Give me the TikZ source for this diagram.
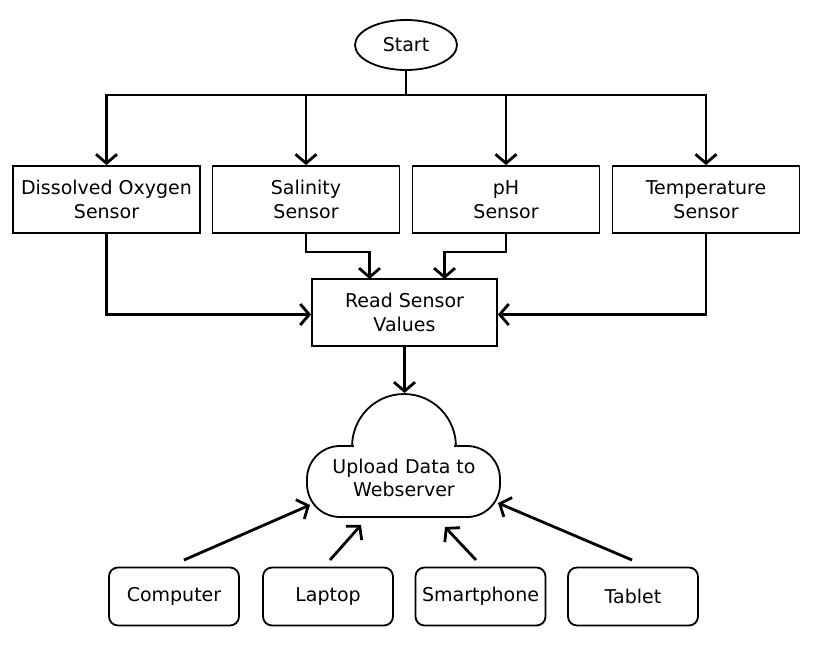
\documentclass[tikz,border=0pt]{standalone}
\usepackage{fontspec}
\setmainfont{DejaVu Sans}
\usetikzlibrary{arrows.meta,shapes.geometric}
\begin{document}
\begin{tikzpicture}[x=1pt,y=-1pt,
  font=\fontsize{19}{23.5}\selectfont,
  box/.style={draw,line width=1.8pt,minimum width=187pt,minimum height=67pt,align=center,inner sep=0pt},
  dev/.style={draw,line width=1.8pt,rounded corners=9pt,minimum width=130pt,minimum height=58pt,inner sep=0pt},
  conn/.style={line width=2.8pt,-{Straight Barb[length=9pt,width=21pt]}},
  wire/.style={line width=2.8pt},
  cloudline/.style={line width=1.8pt}]
\useasboundingbox (0,0) rectangle (813,653);
% start
\node[draw,ellipse,line width=1.8pt,minimum width=102pt,minimum height=50pt,inner sep=0pt] (start) at (406,45) {Start};
% sensors
\node[box] (do) at (106.5,199.5) {Dissolved Oxygen\\Sensor};
\node[box] (sal) at (306,199.5) {Salinity\\Sensor};
\node[box] (ph) at (506,199.5) {pH\\Sensor};
\node[box] (temp) at (706,199.5) {Temperature\\Sensor};
\node[box,minimum width=185pt] (read) at (404.5,312.5) {Read Sensor\\Values};
% cloud
\draw[cloudline,rounded corners=33pt] (307,446) rectangle (500,517);
\fill[white] (354,443) rectangle (454,449.5);
\draw[cloudline] (352,447) .. controls (352,417.3) and (375.3,394) .. (404,394) .. controls (432.7,394) and (456,417.3) .. (456,447);
\node[align=center] (cloud) at (404,478) {Upload Data to\\Webserver};
\coordinate (cloudtop) at (404.5,393);
% devices
\node[dev] (comp) at (174,596.5) {Computer};
\node[dev] (lap) at (328,596.5) {Laptop};
\node[dev] (phone) at (480.5,596.5) {Smartphone};
\node[dev] (tab) at (633,596.5) {Tablet};
% coordinates
\coordinate (bus) at (406,95);
\coordinate (lvl) at (0,252);
\coordinate (mid) at (0,314.5);
\coordinate (salin) at (369.5,279);
\coordinate (phin) at (444.5,279);
\coordinate (c1s) at (184,560);
\coordinate (c1e) at (310,505);
\coordinate (c2s) at (330,560);
\coordinate (c2e) at (361,525);
\coordinate (c3s) at (476,560);
\coordinate (c3e) at (445,527);
\coordinate (c4s) at (632,560);
\coordinate (c4e) at (498,503);
% connectors
\draw[wire] (start) -- (bus);
\draw[conn] (bus) -| (do.north);
\draw[conn] (bus) -| (sal.north);
\draw[conn] (bus) -| (ph.north);
\draw[conn] (bus) -| (temp.north);
\draw[conn] (do.south) |- (read.west |- mid);
\draw[conn] (temp.south) |- (read.east |- mid);
\draw[conn] (sal.south) |- (salin |- lvl) -- (salin);
\draw[conn] (ph.south) |- (phin |- lvl) -- (phin);
\draw[conn] (read.south) -- (cloudtop);
\draw[conn] (c1s) -- (c1e);
\draw[conn] (c2s) -- (c2e);
\draw[conn] (c3s) -- (c3e);
\draw[conn] (c4s) -- (c4e);
\end{tikzpicture}
\end{document}
